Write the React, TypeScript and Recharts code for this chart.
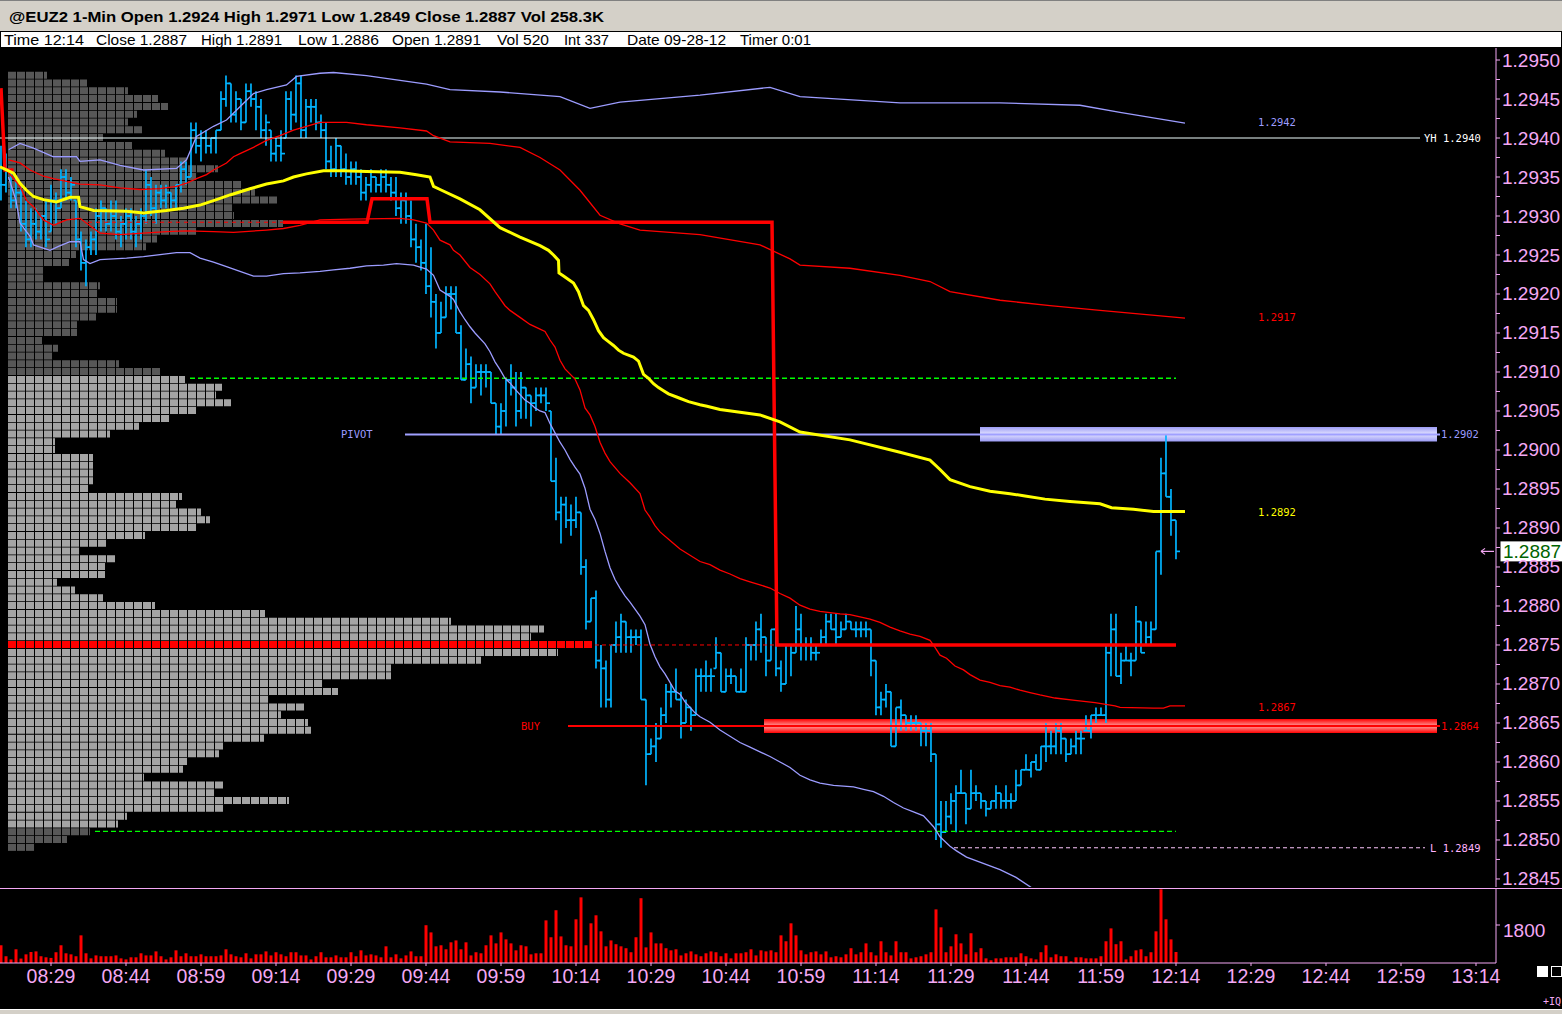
import React from 'react';
import {
  ComposedChart,
  Bar,
  Line,
  XAxis,
  YAxis,
  ReferenceLine,
  ReferenceArea,
  ReferenceDot,
  Cell,
} from 'recharts';

// ---------- layout / style constants ----------
const W = 1562;
const AXIS_W = 66;
const PRICE_TOP = 48;
const PRICE_H = 839;
const PRICE_PAD = 10; // extra room under the price plot so the lowest tick label is not clipped
const VOL_TOP = 888;
const VOL_H = 121;
const AXIS_COLOR = '#F4A8F4';
const FONT = '"Liberation Sans", Arial, sans-serif';
const SMALL_FONT = '"DejaVu Sans Mono", monospace';
const CANDLE = '#00B4FF';
const LAV = '#9C9CFF';
const RED = '#FF0000';

// ---------- data ----------
// prices are stored in pips (0.0001) above 1.2800; times in minutes since midnight
const BASE = 1.28;
const FIRST_MIN = 499; // 08:19
const X_DOMAIN: [number, number] = [498.8, 798];
const Y_DOMAIN: [number, number] = [43.97, 151.54];
const VOL_DOMAIN: [number, number] = [0, 3553];

const TITLE = '@EUZ2 1-Min Open 1.2924 High 1.2971 Low 1.2849 Close 1.2887 Vol 258.3K';
const INFO_TEXT = ['Time 12:14', 'Close 1.2887', 'High 1.2891', 'Low 1.2886', 'Open 1.2891', 'Vol 520', 'Int 337', 'Date 09-28-12', 'Timer 0:01'];
const INFO_X = [4, 96, 201, 298, 392, 497, 564, 627, 740];
const INFO_LEN = [80, 91, 81, 81, 89, 52, 45, 99, 71];

const TIME_TICKS = [509, 524, 539, 554, 569, 584, 599, 614, 629, 644, 659, 674, 689, 704, 719, 734, 749, 764, 779, 794];
const PRICE_MAJOR = [45, 50, 55, 60, 65, 70, 75, 80, 85, 90, 95, 100, 105, 110, 115, 120, 125, 130, 135, 140, 145, 150];
const VOL_TICKS = [1800];

const HIGH = [
  139, 138, 136, 135, 134, 132, 131, 131, 130, 132,
  134, 133, 136, 136, 135, 132, 128, 127, 128, 131,
  132, 131, 132, 132, 130, 131, 131, 130, 131, 136,
  135, 134, 134, 134, 133, 134, 137, 137, 142, 142,
  141, 141, 140, 141, 146, 148, 147, 146, 145, 147,
  147, 146, 145, 143, 141, 140, 141, 146, 146, 148,
  148, 145, 145, 145, 143, 142, 139, 140, 139, 138,
  137, 137, 136, 135, 136, 135, 136, 136, 135, 135,
  133, 133, 132, 129, 127, 129, 126, 120, 119, 121,
  121, 121, 116, 113, 112, 111, 111, 111, 110, 106,
  106, 109, 111, 110, 110, 108, 107, 108, 108, 108,
  105, 99, 94, 94, 93, 94, 92, 86, 81, 82,
  75, 73, 75, 78, 79, 78, 77, 77, 77, 68,
  63, 65, 67, 70, 70, 72, 69, 68, 67, 72,
  72, 73, 72, 76, 74, 72, 72, 71, 72, 76,
  75, 78, 79, 76, 77, 78, 73, 75, 75, 80,
  79, 76, 76, 75, 77, 79, 79, 79, 78, 79,
  78, 78, 78, 78, 77, 73, 69, 70, 69, 67,
  68, 66, 66, 66, 65, 65, 65, 61, 55, 55,
  56, 57, 59, 56, 59, 57, 56, 55, 55, 57,
  56, 57, 56, 59, 59, 61, 60, 61, 62, 65,
  64, 65, 65, 63, 63, 64, 64, 66, 66, 67,
  67, 75, 79, 79, 74, 75, 74, 80, 78, 78,
  78, 87, 99, 102, 95, 91,
];
const LOW = [
  132, 133, 131, 131, 128, 126, 126, 127, 127, 126,
  128, 129, 131, 132, 132, 126, 123, 121, 125, 125,
  128, 128, 128, 127, 126, 127, 127, 126, 127, 129,
  130, 129, 131, 131, 131, 131, 133, 134, 135, 138,
  137, 138, 138, 138, 141, 144, 142, 142, 141, 142,
  144, 141, 140, 139, 137, 137, 137, 140, 141, 142,
  140, 140, 142, 141, 140, 136, 135, 135, 135, 134,
  134, 134, 132, 132, 133, 133, 133, 133, 132, 130,
  129, 129, 126, 124, 123, 120, 117, 113, 115, 117,
  118, 115, 109, 109, 106, 108, 107, 108, 106, 102,
  102, 103, 107, 103, 104, 104, 103, 105, 106, 105,
  96, 91, 88, 90, 89, 90, 84, 77, 78, 72,
  67, 67, 67, 74, 74, 74, 74, 75, 68, 57,
  61, 60, 63, 65, 67, 68, 63, 65, 64, 66,
  69, 69, 69, 72, 69, 69, 70, 69, 69, 69,
  73, 73, 74, 71, 73, 71, 69, 70, 71, 74,
  73, 73, 73, 73, 75, 75, 77, 75, 76, 77,
  77, 76, 76, 76, 71, 66, 66, 67, 62, 62,
  64, 64, 64, 64, 62, 62, 60, 50, 49, 51,
  52, 51, 56, 52, 54, 55, 54, 53, 54, 54,
  54, 54, 54, 55, 57, 59, 58, 59, 59, 60,
  61, 61, 61, 60, 61, 61, 61, 64, 63, 65,
  66, 65, 71, 71, 70, 73, 71, 73, 74, 75,
  75, 77, 84, 94, 89, 86,
];
const CLOSE = [
  134, 136, 132, 133, 129, 127, 129, 128, 130, 127,
  132, 131, 135, 133, 134, 127, 124, 126, 127, 130,
  131, 129, 130, 128, 129, 130, 128, 129, 130, 134,
  131, 133, 132, 133, 132, 134, 136, 135, 141, 139,
  140, 139, 140, 141, 145, 147, 143, 145, 142, 146,
  145, 144, 141, 142, 138, 139, 138, 145, 143, 147,
  141, 144, 144, 142, 141, 137, 136, 139, 136, 135,
  136, 135, 133, 134, 135, 134, 135, 134, 133, 131,
  132, 130, 127, 126, 124, 121, 119, 115, 117, 120,
  120, 115, 109, 111, 108, 110, 110, 110, 106, 103,
  105, 109, 108, 105, 108, 107, 106, 107, 107, 106,
  96, 92, 93, 91, 91, 92, 85, 78, 81, 73,
  72, 68, 75, 76, 78, 76, 76, 76, 68, 61,
  62, 63, 66, 69, 69, 68, 65, 67, 66, 71,
  71, 71, 71, 74, 69, 71, 71, 69, 69, 75,
  75, 77, 76, 73, 77, 72, 70, 75, 74, 77,
  75, 75, 74, 74, 76, 78, 77, 76, 77, 78,
  77, 77, 77, 77, 73, 67, 68, 69, 62, 67,
  66, 65, 65, 65, 64, 64, 61, 52, 51, 53,
  55, 56, 56, 54, 56, 56, 55, 54, 55, 56,
  55, 55, 55, 57, 59, 59, 60, 59, 62, 62,
  62, 64, 63, 61, 62, 63, 63, 64, 66, 66,
  66, 74, 77, 71, 73, 73, 73, 78, 74, 76,
  77, 87, 97, 94, 91, 87,
];
const VOLUME = [
  840, 320, 170, 650, 210, 410, 520, 550, 320, 270,
  240, 510, 840, 460, 410, 320, 1310, 460, 220, 360,
  320, 320, 320, 360, 220, 170, 270, 270, 460, 360,
  360, 550, 320, 170, 270, 600, 320, 460, 320, 320,
  410, 320, 320, 320, 360, 650, 410, 320, 270, 460,
  220, 410, 410, 550, 360, 510, 410, 320, 510, 510,
  360, 360, 170, 320, 510, 270, 270, 360, 270, 270,
  510, 320, 600, 360, 410, 360, 270, 790, 270, 410,
  220, 360, 550, 320, 320, 1790, 1450, 790, 840, 650,
  980, 1070, 650, 980, 360, 510, 460, 840, 1310, 930,
  1450, 1120, 930, 600, 840, 790, 410, 460, 460, 2020,
  1220, 2500, 1260, 840, 790,
  2070, 3110, 840, 1880, 2260, 1500, 790, 1070, 890, 790,
  700, 510, 1220, 3070, 740, 1450, 930, 930, 700, 600,
  650, 360, 460, 550, 410, 320, 460, 550, 510, 320,
  460, 220, 460, 460, 510, 650, 360, 600, 550, 600,
  510, 1310, 1030, 1880, 1310, 600, 410, 510, 550, 410,
  550, 270, 320, 270, 410, 700, 410, 510, 930, 510,
  360, 1030, 510, 360, 1030, 510, 510, 220, 270, 320,
  410, 510, 2540, 1690, 510, 790, 1360, 930, 410, 1410,
  510, 700, 220, 130, 220, 220, 270, 270, 270, 460,
  320, 220, 170, 510, 840, 270, 410, 320, 320, 80,
  270, 270, 220, 220, 220, 320, 1030, 1640, 890, 1030,
  170, 320, 600, 650, 320, 510, 1500, 3490, 2070, 1120,
  520,
];

// volume-at-price profile, from 1.2948 (pip 148) down to 1.2849 (pip 49)
const PROFILE_TOP = 148;
const PROFILE = [
  39, 79, 120, 150, 160, 129, 120, 134, 95, 124,
  157, 179, 210, 189, 233, 247, 270, 224, 226, 275,
  188, 149, 138, 68, 61, 35, 35, 92, 89, 109,
  109, 88, 69, 69, 34, 50, 45, 111, 152, 177,
  214, 208, 223, 188, 161, 131, 102, 47, 47, 85,
  85, 85, 85, 80, 174, 168, 193, 202, 188, 137,
  98, 71, 107, 97, 97, 49, 67, 95, 147, 257,
  443, 536, 523, 584, 550, 473, 383, 383, 314, 330,
  260, 296, 273, 300, 303, 256, 215, 211, 179, 175,
  136, 215, 206, 281, 215, 119, 110, 82, 59, 26,
];
const VALUE_AREA_HIGH = 109.2;
const VALUE_AREA_LOW = 51.1;
const PROFILE_POC = 75;

// indicator lines, [minute, pips]
const UPPER_LAV = [
  [500.5, 138.5], [502.8, 139.3], [505.5, 138.7], [509.5, 137.6], [514.1, 137.6], [514.8, 137.0], [518.8, 137.2],
  [522.8, 136.5], [527.5, 135.9], [534.1, 136.1], [536.1, 137.2], [538.1, 140.2], [541.5, 141.5], [544.1, 142.3],
  [546.8, 144.0], [549.5, 145.7], [552.1, 146.2], [556.1, 146.8], [558.1, 147.9], [562.8, 148.3], [565.5, 148.4],
  [572.1, 148.0], [578.8, 147.4], [584.1, 146.9], [588.8, 146.2], [598.8, 145.9], [610.8, 145.3], [616.8, 143.8],
  [622.8, 144.6], [638.8, 145.5], [652.8, 146.5], [658.8, 145.3], [678.8, 144.5], [698.8, 144.5], [714.8, 144.2],
  [722.8, 143.3], [735.8, 141.9],
];
const LOWER_LAV = [
  [500.5, 135.0], [502.0, 132.0], [502.8, 129.1], [504.8, 127.4], [505.5, 126.3], [508.8, 125.6], [510.5, 126.1],
  [512.8, 126.7], [514.8, 126.7], [515.5, 124.4], [516.8, 123.9], [518.8, 124.4], [524.1, 124.6], [527.5, 124.8],
  [534.1, 125.3], [536.8, 125.3], [538.8, 124.6], [541.5, 124.1], [544.1, 123.5], [546.8, 122.9], [549.5, 122.3],
  [552.1, 122.3], [555.5, 122.6], [558.8, 122.7], [562.8, 122.9], [565.5, 123.1], [568.8, 123.3], [572.1, 123.6],
  [575.5, 123.7], [578.1, 123.9], [581.5, 123.7], [584.1, 123.2], [585.5, 122.4], [586.8, 120.5], [588.8, 119.7],
  [589.5, 119.3], [590.8, 117.7], [591.8, 116.7], [592.8, 115.8], [593.8, 115.0], [595.8, 113.6], [596.8, 112.6],
  [597.8, 111.3], [598.8, 110.3], [599.8, 109.2], [600.8, 108.6], [601.8, 107.8], [602.8, 107.1], [603.8, 106.4],
  [604.8, 106.0], [605.8, 105.4], [606.8, 105.0], [607.8, 104.8], [608.8, 103.4], [609.8, 102.2], [610.8, 101.0],
  [611.8, 100.0], [612.8, 98.8], [613.8, 97.8], [614.8, 96.9], [615.8, 95.1], [616.8, 92.4], [617.8, 91.1],
  [618.8, 89.3], [619.8, 87.0], [620.8, 84.9], [621.8, 83.4], [622.8, 82.3], [623.8, 81.3], [624.8, 80.5],
  [625.8, 79.6], [626.8, 78.7], [627.8, 77.6], [628.8, 75.1], [629.8, 73.5], [630.8, 72.2], [631.8, 71.3],
  [632.8, 70.2], [633.8, 69.1], [634.8, 68.7], [635.8, 67.7], [636.8, 67.0], [637.8, 66.3], [638.8, 65.8],
  [640.8, 65.1], [642.8, 64.1], [644.8, 63.3], [646.8, 62.5], [648.8, 61.9], [650.8, 61.3], [652.8, 60.7],
  [654.8, 60.0], [656.8, 59.3], [658.8, 58.3], [660.8, 57.7], [662.8, 57.3], [665.5, 57.0], [669.5, 56.8],
  [671.5, 56.5], [673.5, 56.2], [675.5, 55.6], [677.5, 54.8], [679.5, 54.1], [681.5, 53.6], [683.5, 53.1],
  [685.5, 51.7], [686.8, 50.4], [688.8, 49.2], [690.1, 48.6], [692.1, 47.8], [698.8, 46.2], [702.0, 45.2],
  [706.0, 43.5],
];
const UPPER_RED = [
  [500.5, 137.2], [502.8, 136.8], [504.8, 135.9], [507.5, 135.1], [509.5, 134.8], [514.8, 134.1], [518.8, 134.0],
  [522.8, 133.6], [526.8, 133.4], [530.8, 133.5], [534.1, 133.8], [536.1, 134.2], [538.1, 134.8], [540.1, 135.3],
  [541.5, 135.9], [544.1, 136.8], [545.5, 137.6], [546.8, 138.0], [549.5, 138.8], [552.1, 139.7], [554.8, 140.3],
  [557.5, 141.0], [560.1, 141.5], [562.8, 142.0], [568.1, 142.0], [572.1, 141.7], [578.8, 141.3], [584.1, 140.9],
  [585.5, 140.3], [588.8, 139.5], [596.8, 139.3], [602.8, 138.8], [606.8, 137.5], [610.8, 135.9], [614.8, 133.3],
  [618.8, 130.1], [622.8, 129.0], [626.8, 128.2], [638.8, 127.6], [650.8, 126.3], [656.8, 124.5], [658.8, 123.7],
  [668.8, 123.3], [678.8, 122.4], [684.8, 121.6], [688.8, 120.3], [698.8, 119.2], [708.8, 118.5], [718.8, 117.9],
  [735.8, 116.9],
];
const LOWER_RED = [
  [500.1, 135.9], [502.8, 133.8], [504.1, 132.0], [505.5, 131.2], [507.5, 129.5], [509.5, 128.8], [512.1, 129.5],
  [514.8, 129.7], [518.8, 127.8], [522.8, 127.6], [527.5, 127.8], [532.1, 128.0], [536.1, 128.1], [541.5, 128.0],
  [545.5, 127.9], [552.1, 128.2], [555.5, 128.4], [558.8, 128.8], [562.8, 129.5], [568.8, 129.6], [578.8, 129.7],
  [581.5, 129.5], [584.1, 129.1], [585.5, 128.2], [586.8, 126.9], [588.8, 126.3], [589.5, 125.6], [590.8, 125.0],
  [592.8, 123.4], [594.8, 122.5], [596.8, 121.3], [597.8, 120.3], [598.8, 119.4], [599.8, 118.5], [600.8, 117.9],
  [602.8, 117.0], [604.8, 116.1], [606.8, 115.5], [607.8, 115.2], [608.8, 114.1], [609.8, 113.2], [610.8, 111.5],
  [611.8, 110.4], [613.8, 109.1], [614.8, 107.7], [615.8, 105.4], [616.8, 104.5], [617.8, 103.0], [618.8, 101.0],
  [619.8, 99.6], [620.8, 98.5], [622.8, 97.0], [624.8, 95.8], [626.8, 94.4], [627.8, 92.3], [628.8, 91.4],
  [629.8, 90.3], [630.8, 89.5], [632.8, 88.4], [634.8, 87.3], [636.8, 86.5], [638.8, 85.7], [640.8, 85.3],
  [642.8, 84.6], [644.8, 84.1], [646.8, 83.5], [648.8, 83.1], [650.8, 82.7], [652.8, 82.3], [654.8, 81.6],
  [656.8, 81.0], [658.8, 80.1], [660.8, 79.6], [662.8, 79.3], [666.8, 79.0], [668.8, 78.9], [670.8, 78.6],
  [672.8, 78.3], [674.8, 77.9], [676.8, 77.3], [678.8, 76.8], [680.8, 76.4], [682.8, 76.1], [684.8, 75.6],
  [685.8, 74.7], [686.8, 73.7], [688.1, 73.3], [689.8, 72.3], [691.5, 71.8], [692.8, 71.2], [694.8, 70.5],
  [696.8, 70.2], [698.8, 69.8], [700.8, 69.6], [702.8, 69.2], [704.8, 68.9], [706.8, 68.6], [709.8, 68.2],
  [713.8, 67.9], [717.8, 67.6], [721.8, 67.2], [722.8, 67.0], [729.5, 66.9], [731.5, 66.9], [732.8, 67.2],
  [735.8, 67.2],
];
const YELLOW = [
  [498.8, 136.3], [501.5, 135.5], [502.8, 134.2], [504.1, 133.3], [505.5, 132.5], [507.5, 132.1], [510.1, 131.8],
  [512.8, 132.4], [514.5, 132.4], [514.8, 131.2], [517.5, 130.7], [524.1, 130.6], [527.5, 130.4], [532.1, 130.7],
  [535.5, 131.0], [538.8, 131.4], [542.1, 132.1], [544.8, 132.7], [548.8, 133.5], [552.1, 134.1], [555.5, 134.5],
  [557.5, 135.0], [560.1, 135.4], [563.5, 135.8], [567.5, 135.8], [572.1, 135.7], [578.8, 135.6], [582.1, 135.3],
  [584.8, 135.0], [585.5, 133.8], [586.8, 133.4], [590.8, 132.2], [594.8, 130.8], [598.8, 128.5], [602.8, 127.3],
  [606.8, 126.2], [608.5, 125.6], [609.5, 125.0], [610.5, 124.3], [610.6, 122.7], [611.5, 122.3], [613.5, 121.4],
  [614.5, 120.3], [615.5, 118.5], [616.5, 117.9], [617.5, 116.7], [618.5, 115.3], [619.5, 114.4], [620.5, 113.9],
  [621.5, 113.4], [622.5, 112.8], [623.5, 112.4], [625.5, 111.9], [626.5, 111.4], [627.5, 109.7], [628.5, 109.2],
  [629.5, 108.5], [630.5, 108.0], [631.5, 107.6], [632.5, 107.2], [634.5, 106.7], [636.5, 106.2], [638.8, 105.8],
  [640.2, 105.6], [642.8, 105.2], [650.8, 104.5], [654.8, 103.6], [658.8, 102.3], [668.8, 101.3], [678.8, 99.7],
  [684.8, 98.7], [686.8, 97.5], [688.8, 96.2], [692.8, 95.3], [696.8, 94.7], [700.8, 94.4], [703.8, 94.1],
  [707.8, 93.7], [712.8, 93.4], [718.8, 93.1], [721.1, 92.6], [725.5, 92.4], [729.5, 92.1], [735.8, 92.1],
];
// developing point of control (null = gap)
const DEV_POC: [number, number | null][] = [
  [499, 146.4], [499.8, 135.9], [501.5, 135.9], [502, null],
  [555.4, 129.2], [572.2, 129.2], [573.2, 132.2], [584.2, 132.2], [584.8, 129.2],
  [653.2, 129.2], [654.2, 75], [734, 75],
];

// horizontal levels
const YESTERDAY_HIGH = 140;
const PIVOT = 102;
const BUY = 64.6;
const SESSION_LOW = 49;
const LAST_PRICE = 87;

// ---------- derived tables ----------
const bars = HIGH.map((h, i) => ({
  t: FIRST_MIN + i,
  range: [LOW[i], h],
  high: h,
  low: LOW[i],
  close: CLOSE[i],
  open: i === 0 ? CLOSE[0] : CLOSE[i - 1],
  vol: VOLUME[i],
}));
const toPts = (a: (number | null)[][]) => a.map(([t, v]) => ({ t, v }));
const profileData = PROFILE.map((v, i) => ({ p: PROFILE_TOP - i, v }));
const priceTicks: number[] = [];
PRICE_MAJOR.forEach((v, i) => {
  priceTicks.push(v);
  if (i < PRICE_MAJOR.length - 1) priceTicks.push(v + 2.5);
});

const fmtPrice = (v: number) => (BASE + v / 10000).toFixed(4);
const pad = (n: number) => (n < 10 ? '0' + n : '' + n);
const fmtTime = (m: number) => pad(Math.floor(m / 60)) + ':' + pad(m % 60);

// ---------- custom renderers ----------
const Candle = (props: any) => {
  const { x, y, width, height, payload } = props;
  if (!payload || x == null) return null;
  const cx = x + width / 2;
  const span = payload.high - payload.low || 1;
  const py = (p: number) => y + ((payload.high - p) / span) * height;
  const o = Math.min(Math.max(payload.open, payload.low), payload.high);
  return (
    <g stroke={CANDLE} strokeWidth={1.7} fill="none">
      <line x1={cx} x2={cx} y1={y} y2={y + height} />
      <line x1={cx - 2.5} x2={cx} y1={py(o)} y2={py(o)} />
      <line x1={cx} x2={cx + 4} y1={py(payload.close)} y2={py(payload.close)} />
    </g>
  );
};

const PriceTick = (props: any) => {
  const { x, y, payload } = props;
  const v = payload.value;
  const major = Math.abs(v / 5 - Math.round(v / 5)) < 1e-6;
  return (
    <g>
      <line x1={x} x2={x + 4} y1={y} y2={y} stroke={AXIS_COLOR} />
      {major ? (
        <text x={x + 6} y={y + 6.5} fill={AXIS_COLOR} fontSize={19} fontFamily={FONT}>
          {fmtPrice(v)}
        </text>
      ) : null}
    </g>
  );
};

const VolTick = (props: any) => {
  const { x, y, payload } = props;
  return (
    <g>
      <line x1={x} x2={x + 4} y1={y} y2={y} stroke={AXIS_COLOR} />
      <text x={x + 7} y={y + 12} fill={AXIS_COLOR} fontSize={19} fontFamily={FONT}>
        {payload.value}
      </text>
    </g>
  );
};

const TimeTick = (props: any) => {
  const { x, y, payload } = props;
  return (
    <g>
      <line x1={x} x2={x} y1={y} y2={y + 3} stroke={AXIS_COLOR} />
      <text x={x} y={y + 20} textAnchor="middle" fill={AXIS_COLOR} fontSize={19.5} fontFamily={FONT}>
        {fmtTime(payload.value)}
      </text>
    </g>
  );
};

const tag = (text: string, color: string) => (p: any) => (
  <text x={p.cx} y={p.cy} dy={3.8} fill={color} fontSize={10.5} fontFamily={SMALL_FONT}>
    {text}
  </text>
);

const LastPriceTag = (p: any) => {
  const x = p.cx;
  const y = p.cy;
  return (
    <g>
      <line x1={x - 15} x2={x - 2} y1={y} y2={y} stroke={AXIS_COLOR} strokeWidth={1.2} />
      <path d={`M${x - 15},${y} l4,-3 M${x - 15},${y} l4,3`} stroke={AXIS_COLOR} strokeWidth={1.2} fill="none" />
      <rect x={x + 4.5} y={y - 10} width={62} height={20} fill="#FFFFFF" />
      <text x={x + 7} y={y + 7} fill="#006400" fontSize={19} fontFamily={FONT}>
        {fmtPrice(LAST_PRICE)}
      </text>
    </g>
  );
};

const profileFill = (p: number) => {
  if (p === PROFILE_POC) return 'url(#cellRed)';
  if (p > VALUE_AREA_HIGH || p < VALUE_AREA_LOW) return 'url(#cellDark)';
  return 'url(#cellLight)';
};

// ---------- component ----------
export default function App() {
  return (
    <div style={{ position: 'relative', width: W, height: 1014, background: '#000', overflow: 'hidden', fontFamily: FONT }}>
      <style>{'body{margin:0;background:#000;}'}</style>

      <svg width={0} height={0} style={{ position: 'absolute' }}>
        <defs>
          <pattern id="cellDark" x={8} y={0} width={9} height={10} patternUnits="userSpaceOnUse">
            <rect width={8} height={10} fill="#575757" />
          </pattern>
          <pattern id="cellLight" x={8} y={0} width={9} height={10} patternUnits="userSpaceOnUse">
            <rect width={8} height={10} fill="#A4A4A4" />
          </pattern>
          <pattern id="cellRed" x={8} y={0} width={9} height={10} patternUnits="userSpaceOnUse">
            <rect width={8} height={10} fill="#FF0000" />
          </pattern>
          <linearGradient id="pivotBand" x1="0" y1="0" x2="0" y2="1">
            <stop offset="0%" stopColor="#9C9CF4" />
            <stop offset="50%" stopColor="#E2E2FF" />
            <stop offset="100%" stopColor="#9C9CF4" />
          </linearGradient>
          <linearGradient id="buyBand" x1="0" y1="0" x2="0" y2="1">
            <stop offset="0%" stopColor="#FF0000" />
            <stop offset="50%" stopColor="#FF9A9A" />
            <stop offset="100%" stopColor="#FF0000" />
          </linearGradient>
        </defs>
      </svg>

      {/* header */}
      <svg width={W} height={PRICE_TOP} style={{ position: 'absolute', left: 0, top: 0 }}>
        <rect x={0} y={0} width={W} height={31} fill="#D4D0C8" />
        <line x1={0} x2={W} y1={0.5} y2={0.5} stroke="#808080" />
        <text x={9} y={22} fontFamily={FONT} fontWeight="bold" fontSize={14.5} textLength={595} lengthAdjust="spacingAndGlyphs" fill="#000">
          {TITLE}
        </text>
        <rect x={0.5} y={31.5} width={W - 1} height={16} fill="#FFFFFF" stroke="#000" />
        {INFO_TEXT.map((s, i) => (
          <text key={s} x={INFO_X[i]} y={44.5} fontFamily={FONT} fontSize={14.5} textLength={INFO_LEN[i]} lengthAdjust="spacingAndGlyphs" fill="#000">
            {s}
          </text>
        ))}
      </svg>

      {/* volume-at-price profile */}
      <div style={{ position: 'absolute', left: 0, top: PRICE_TOP }}>
        <ComposedChart width={W} height={PRICE_H} layout="vertical" data={profileData} margin={{ top: 0, right: AXIS_W, left: 8, bottom: 0 }}>
          <XAxis type="number" domain={[0, 1488]} allowDataOverflow hide />
          <YAxis type="number" dataKey="p" domain={Y_DOMAIN} allowDataOverflow reversed hide />
          <Bar dataKey="v" barSize={7} isAnimationActive={false}>
            {profileData.map((d) => (
              <Cell key={d.p} fill={profileFill(d.p)} />
            ))}
          </Bar>
        </ComposedChart>
      </div>

      {/* price chart (plot area is PRICE_H tall; PRICE_PAD below it is free room for the last tick label) */}
      <div style={{ position: 'absolute', left: 0, top: PRICE_TOP }}>
        <ComposedChart width={W} height={PRICE_H + PRICE_PAD} data={bars} margin={{ top: 0, right: 0, left: 0, bottom: PRICE_PAD }}>
          <XAxis type="number" dataKey="t" domain={X_DOMAIN} allowDataOverflow hide />
          <YAxis
            orientation="right"
            type="number"
            width={AXIS_W}
            domain={Y_DOMAIN}
            allowDataOverflow
            ticks={priceTicks}
            interval={0}
            tickLine={false}
            tickSize={0}
            tickMargin={0}
            axisLine={{ stroke: AXIS_COLOR }}
            tick={PriceTick}
          />

          <ReferenceArea x1={694.8} x2={786.2} y1={101.1} y2={102.95} fill="url(#pivotBand)" fillOpacity={1} stroke="none" />
          <ReferenceArea x1={651.6} x2={786.2} y1={63.7} y2={65.5} fill="url(#buyBand)" fillOpacity={1} stroke="none" />

          <ReferenceLine segment={[{ x: 498.8, y: YESTERDAY_HIGH }, { x: 782.8, y: YESTERDAY_HIGH }]} stroke="#F0FFFF" strokeWidth={1} />
          <ReferenceLine segment={[{ x: 536.8, y: VALUE_AREA_HIGH }, { x: 734, y: VALUE_AREA_HIGH }]} stroke="#00FF00" strokeWidth={1.3} strokeDasharray="5 3" />
          <ReferenceLine segment={[{ x: 517.8, y: VALUE_AREA_LOW }, { x: 734, y: VALUE_AREA_LOW }]} stroke="#00FF00" strokeWidth={1.3} strokeDasharray="5 3" />
          <ReferenceLine segment={[{ x: 579.8, y: PIVOT }, { x: 786.8, y: PIVOT }]} stroke="#A0A0FF" strokeWidth={2} />
          <ReferenceLine segment={[{ x: 612.4, y: BUY }, { x: 786.8, y: BUY }]} stroke={RED} strokeWidth={2} />
          <ReferenceLine segment={[{ x: 689.6, y: SESSION_LOW }, { x: 783.8, y: SESSION_LOW }]} stroke="#FFC8FF" strokeWidth={1} strokeDasharray="4 3" />
          <ReferenceLine segment={[{ x: 617.8, y: PROFILE_POC }, { x: 653.8, y: PROFILE_POC }]} stroke={RED} strokeWidth={1} strokeDasharray="4 3" />
          <ReferenceLine segment={[{ x: 516.4, y: 129.2 }, { x: 555.4, y: 129.2 }]} stroke={RED} strokeWidth={1} strokeDasharray="4 4" />

          <Line data={toPts(UPPER_LAV)} dataKey="v" type="linear" stroke={LAV} strokeWidth={1.3} dot={false} isAnimationActive={false} />
          <Line data={toPts(LOWER_LAV)} dataKey="v" type="linear" stroke={LAV} strokeWidth={1.3} dot={false} isAnimationActive={false} />
          <Line data={toPts(UPPER_RED)} dataKey="v" type="linear" stroke={RED} strokeWidth={1.3} dot={false} isAnimationActive={false} />
          <Line data={toPts(LOWER_RED)} dataKey="v" type="linear" stroke={RED} strokeWidth={1.3} dot={false} isAnimationActive={false} />
          <Line data={toPts(DEV_POC)} dataKey="v" type="linear" stroke={RED} strokeWidth={3.5} dot={false} isAnimationActive={false} />
          <Line data={toPts(YELLOW)} dataKey="v" type="linear" stroke="#FFFF00" strokeWidth={3} dot={false} isAnimationActive={false} />

          <Bar dataKey="range" barSize={4} shape={Candle} isAnimationActive={false} />

          <ReferenceDot x={750.4} y={142} r={1} shape={tag('1.2942', LAV)} />
          <ReferenceDot x={750.4} y={117} r={1} shape={tag('1.2917', RED)} />
          <ReferenceDot x={750.4} y={92} r={1} shape={tag('1.2892', '#FFFF00')} />
          <ReferenceDot x={750.4} y={67} r={1} shape={tag('1.2867', RED)} />
          <ReferenceDot x={783.6} y={YESTERDAY_HIGH} r={1} shape={tag('YH 1.2940', '#FFFFFF')} />
          <ReferenceDot x={567} y={PIVOT} r={1} shape={tag('PIVOT', LAV)} />
          <ReferenceDot x={787} y={PIVOT} r={1} shape={tag('1.2902', LAV)} />
          <ReferenceDot x={603} y={BUY} r={1} shape={tag('BUY', RED)} />
          <ReferenceDot x={787} y={BUY} r={1} shape={tag('1.2864', RED)} />
          <ReferenceDot x={784.8} y={SESSION_LOW} r={1} shape={tag('L 1.2849', '#FFB4FF')} />
          <ReferenceDot x={798} y={LAST_PRICE} r={1} ifOverflow="visible" shape={LastPriceTag} />
        </ComposedChart>
      </div>

      {/* volume panel */}
      <div style={{ position: 'absolute', left: 0, top: VOL_TOP }}>
        <ComposedChart width={W} height={VOL_H} data={bars} margin={{ top: 0, right: 0, left: 0, bottom: 0 }}>
          <XAxis
            type="number"
            dataKey="t"
            domain={X_DOMAIN}
            allowDataOverflow
            ticks={TIME_TICKS}
            interval={0}
            height={46}
            tickLine={false}
            tickSize={0}
            tickMargin={0}
            axisLine={{ stroke: AXIS_COLOR }}
            tick={TimeTick}
          />
          <YAxis
            orientation="right"
            type="number"
            width={AXIS_W}
            domain={VOL_DOMAIN}
            allowDataOverflow
            ticks={VOL_TICKS}
            interval={0}
            tickLine={false}
            tickSize={0}
            tickMargin={0}
            axisLine={{ stroke: AXIS_COLOR }}
            tick={VolTick}
          />
          <Bar dataKey="vol" barSize={3} fill="#FF0000" isAnimationActive={false} />
        </ComposedChart>
      </div>

      {/* frame decorations */}
      <div style={{ position: 'absolute', left: 0, top: VOL_TOP, width: W, height: 1, background: AXIS_COLOR }} />
      <div style={{ position: 'absolute', left: 1537, top: 966, width: 11, height: 11, background: '#FFFFFF' }} />
      <div style={{ position: 'absolute', left: 1551, top: 966, width: 9, height: 9, border: '1px solid #FFFFFF' }} />
      <div style={{ position: 'absolute', left: 1543, top: 996, fontSize: 10, color: AXIS_COLOR, fontFamily: SMALL_FONT }}>+IQ</div>
      <div style={{ position: 'absolute', left: 0, top: 1009, width: W, height: 5, background: '#D4D0C8', borderTop: '1px solid #FFFFFF' }} />
    </div>
  );
}
